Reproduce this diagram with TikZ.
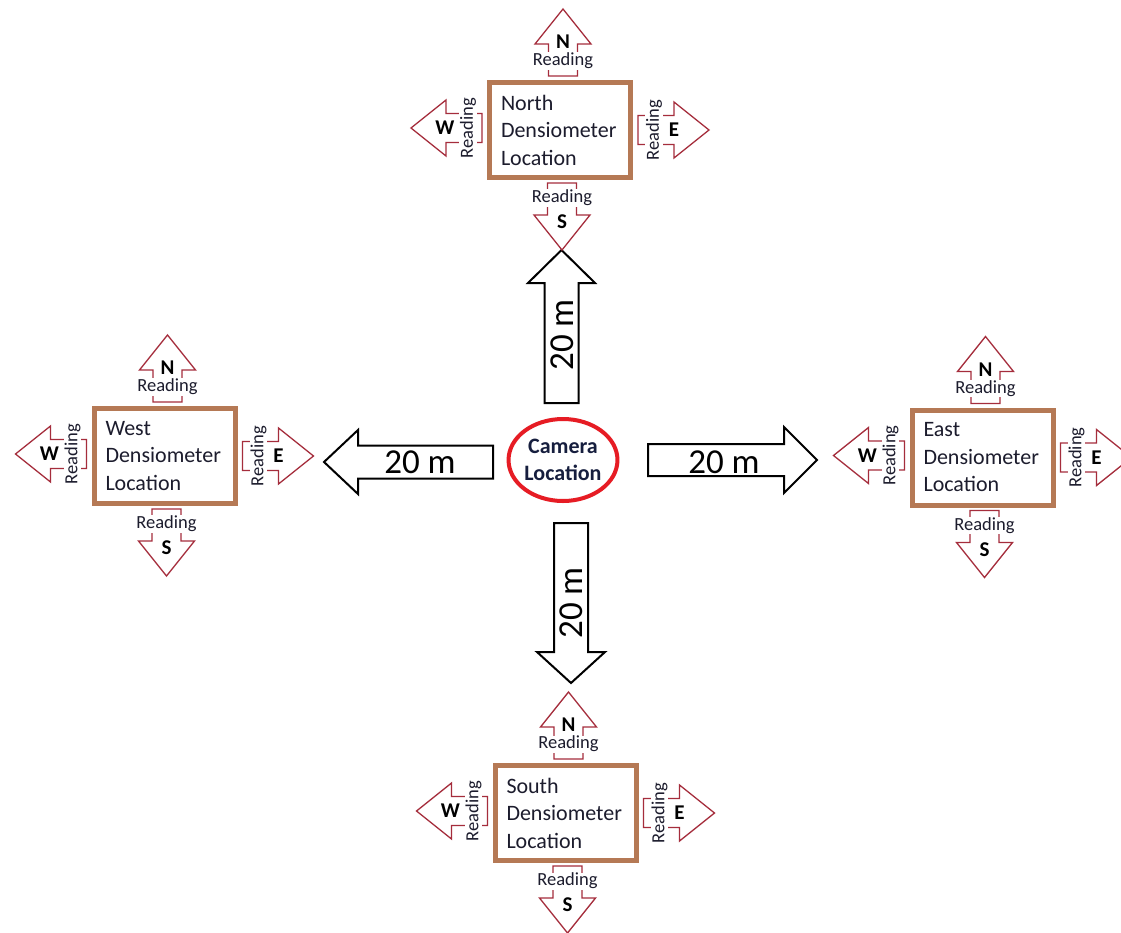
\documentclass[tikz,border=0pt]{standalone}
\usepackage{fontspec}
\setmainfont{Carlito}
\usepackage{tikz}
\usetikzlibrary{calc, positioning, shapes.geometric}
\usepackage{xcolor}
\definecolor{denbrown}{RGB}{181,121,85}
\definecolor{readred}{RGB}{165,45,60}
\definecolor{camred}{RGB}{230,28,36}
\definecolor{camtext}{RGB}{22,30,62}
\definecolor{boxtext}{RGB}{28,28,45}

% 方块箭头: 样式, 尾部x, 尾部y, 角度, 长度, 杆半宽, 头半宽, 头长
\newcommand{\blockarrow}[8]{%
  \draw[#1, shift={({#2},{#3})}, rotate=#4]
    (0,-#6) -- ({#5-#8},-#6) -- ({#5-#8},-#7) -- (#5,0)
    -- ({#5-#8},#7) -- ({#5-#8},#6) -- (0,#6) -- cycle;
}

% 测点: 名称, 中心x, 中心y, 标题
\newcommand{\densio}[4]{%
  % 读数箭头
  \blockarrow{readarrow}{#2+3}{#3-54}{90}{67}{14.5}{28}{35}
  \blockarrow{readarrow}{#2+2}{#3+53}{-90}{67}{14.5}{28}{35}
  \blockarrow{readarrow}{#2-78}{#3-2}{180}{71}{14.5}{28}{35}
  \blockarrow{readarrow}{#2+78}{#3}{0}{71}{14.5}{28}{35}
  % 方向文字
  \node[dirletter] (#1-n) at ({#2+3},{#3-88}) {N};
  \node[readlbl] (#1-nr) at ({#2+3},{#3-69}) {Reading};
  \node[readlbl] (#1-sr) at ({#2+2},{#3+68}) {Reading};
  \node[dirletter] (#1-s) at ({#2+2},{#3+92}) {S};
  \node[dirletter] (#1-w) at ({#2-115},{#3-2}) {W};
  \node[readlbl, rotate=90] (#1-wr) at ({#2-92},{#3-2}) {Reading};
  \node[readlbl, rotate=90] (#1-er) at ({#2+94},{#3}) {Reading};
  \node[dirletter] (#1-e) at ({#2+114},{#3}) {E};
  % 位置框
  \node[denbox] (#1) at (#2,#3) {#4\\Densiometer\\Location};
}

\begin{document}
\begin{tikzpicture}[x=1pt, y=-1pt,
    bigarrow/.style={draw=black, line width=2pt, fill=white},
    readarrow/.style={draw=readred, line width=1.3pt, fill=white},
    readlbl/.style={fill=white, inner sep=0.5pt, text=boxtext,
      font=\fontsize{18.5}{19}\selectfont},
    dirletter/.style={inner sep=0pt, font=\bfseries\fontsize{21}{21}\selectfont},
    meterlbl/.style={inner sep=0pt, font=\fontsize{35}{35}\selectfont},
    denbox/.style={draw=denbrown, line width=5pt, fill=white,
      minimum height=95pt, text width=118pt, inner xsep=11.5pt,
      align=left, text=boxtext, font=\fontsize{22}{27.5}\selectfont},
    camnode/.style={ellipse, draw=camred, line width=4pt, inner sep=0pt,
      minimum width=108pt, minimum height=82pt, align=center, text=camtext,
      font=\bfseries\fontsize{22}{27}\selectfont}]

    % 画布
    \useasboundingbox (0,0) rectangle (1121,932);
    \fill[white] (0,0) rectangle (1121,932);
    \clip (0,0) rectangle (1121,932);

    % 相机位置
    \node[camnode] (cam) at (563,460) {Camera\\Location};

    % 20 m 箭头
    \blockarrow{bigarrow}{561.5}{403}{90}{153}{17}{33.5}{33}
    \blockarrow{bigarrow}{571}{523}{-90}{160}{17}{34}{31}
    \blockarrow{bigarrow}{493}{462}{180}{169}{16.5}{32}{34}
    \blockarrow{bigarrow}{648}{460}{0}{169}{16}{33}{33}
    \node[meterlbl, rotate=90] (dn) at (562,335) {20 m};
    \node[meterlbl, rotate=90] (ds) at (571,603) {20 m};
    \node[meterlbl] (dw) at (420,462) {20 m};
    \node[meterlbl] (de) at (724,462) {20 m};

    % 四个测点
    \foreach \nm/\cx/\cy/\ttl in {nbox/560/130/North, wbox/164.5/456/West,
        ebox/982.5/457.5/East, sbox/565.5/813/South} {
        \densio{\nm}{\cx}{\cy}{\ttl}
    }
\end{tikzpicture}
\end{document}
